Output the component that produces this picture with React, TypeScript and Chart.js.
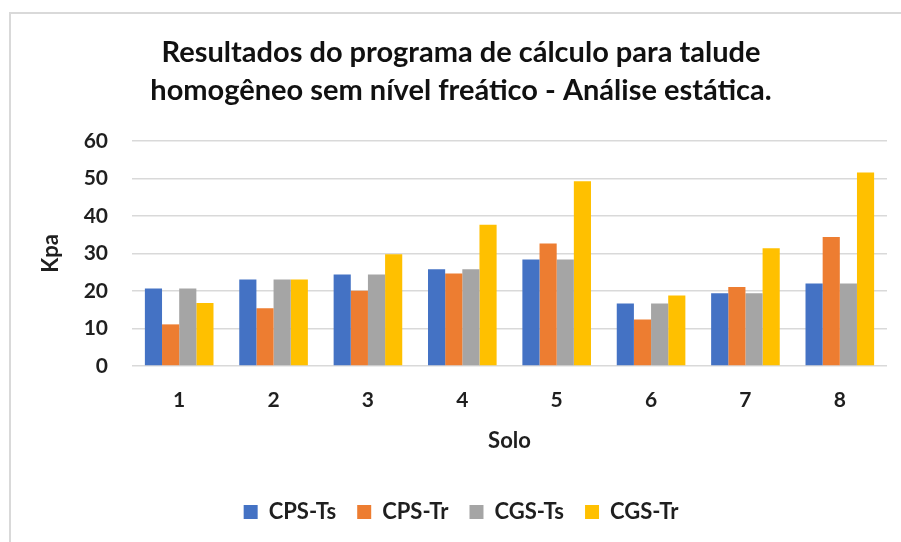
import React, { useEffect, useRef } from "react";
import { Chart, registerables } from "chart.js";

Chart.register(...registerables);

const categories = ["1", "2", "3", "4", "5", "6", "7", "8"];
const seriesNames = ["CPS-Ts", "CPS-Tr", "CGS-Ts", "CGS-Tr"];
const cpsTs = [20.7, 23.1, 24.4, 25.8, 28.4, 16.7, 19.4, 22.0];
const cpsTr = [11.1, 15.4, 20.1, 24.7, 32.7, 12.4, 21.1, 34.4];
const cgsTs = [20.7, 23.1, 24.4, 25.8, 28.4, 16.7, 19.4, 22.0];
const cgsTr = [16.8, 23.1, 29.8, 37.7, 49.3, 18.8, 31.4, 51.6];
const seriesColors = ["#4472C4", "#ED7D31", "#A5A5A5", "#FFC000"];
const titleLines = [
  "Resultados do programa de cálculo para talude",
  "homogêneo sem nível freático - Análise estática.",
];
const yTitle = "Kpa";
const xTitle = "Solo";
const yMin = 0;
const yMax = 60;
const yStep = 10;

const FONT = "Lato, 'Open Sans', sans-serif";
const TEXT = "#1f1f1f";

export default function App() {
  const ref = useRef<HTMLCanvasElement | null>(null);

  useEffect(() => {
    if (!ref.current) return;
    const values = [cpsTs, cpsTr, cgsTs, cgsTr];
    const chart = new Chart(ref.current, {
      type: "bar",
      data: {
        labels: categories,
        datasets: seriesNames.map((name, i) => ({
          label: name,
          data: values[i],
          backgroundColor: seriesColors[i],
          borderWidth: 0,
          categoryPercentage: 0.727,
          barPercentage: 1,
        })),
      },
      options: {
        responsive: false,
        animation: false,
        devicePixelRatio: 1,
        layout: { padding: { left: 35, right: 14, top: 0, bottom: 9 } },
        plugins: {
          title: {
            display: true,
            text: titleLines,
            color: "#111111",
            font: { family: FONT, size: 29, weight: "bold", lineHeight: 38 / 29 },
            padding: { top: 34, bottom: 31 },
          },
          legend: {
            display: true,
            position: "bottom",
            labels: {
              boxWidth: 14,
              boxHeight: 14,
              padding: 21,
              color: TEXT,
              font: { family: FONT, size: 22, weight: "bold" },
            },
          },
          tooltip: { enabled: false },
        },
        scales: {
          x: {
            grid: { display: false, drawTicks: false },
            border: { display: false },
            ticks: {
              color: TEXT,
              padding: 22,
              font: { family: FONT, size: 21, weight: "bold" },
            },
            title: {
              display: true,
              text: xTitle,
              color: TEXT,
              font: { family: FONT, size: 22, weight: "bold" },
              padding: { top: 0, bottom: 26 },
            },
            afterFit: (s: any) => {
              s.height = 114;
            },
          },
          y: {
            min: yMin,
            max: yMax,
            grid: { color: "#d9d9d9", lineWidth: 1.5, drawTicks: false },
            border: { display: false },
            ticks: {
              stepSize: yStep,
              color: TEXT,
              padding: 24,
              font: { family: FONT, size: 21, weight: "bold" },
            },
            title: {
              display: true,
              text: yTitle,
              color: TEXT,
              font: { family: FONT, size: 22, weight: "bold" },
              padding: { top: 3, bottom: 0 },
            },
            afterFit: (s: any) => {
              s.width = 97;
            },
          },
        },
      },
    });
    return () => chart.destroy();
  }, []);

  return (
    <div
      style={{
        position: "absolute",
        left: 0,
        top: 0,
        width: 901,
        height: 542,
        background: "#ffffff",
        overflow: "hidden",
      }}
    >
      <div
        style={{
          position: "absolute",
          left: 9,
          top: 12,
          width: 920,
          height: 560,
          border: "2px solid #d9d9d9",
          boxSizing: "border-box",
        }}
      />
      <canvas
        ref={ref}
        width={901}
        height={542}
        style={{ position: "absolute", left: 0, top: 0, width: 901, height: 542 }}
      />
    </div>
  );
}
